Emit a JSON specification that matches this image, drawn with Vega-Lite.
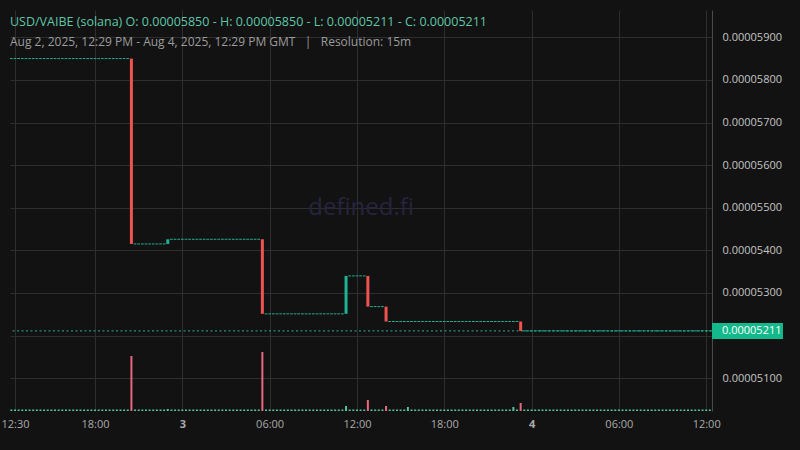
{
  "$schema": "https://vega.github.io/schema/vega-lite/v6.json",
  "width": 702,
  "height": 401,
  "autosize": {"type": "none"},
  "padding": {"left": 10, "top": 10, "right": 88, "bottom": 39},
  "background": "#121212",
  "title": {
    "text": "USD/VAIBE (solana)  O: 0.00005850 - H: 0.00005850 - L: 0.00005211 - C: 0.00005211",
    "subtitle": "Aug 2, 2025, 12:29 PM - Aug 4, 2025, 12:29 PM GMT \u00a0\u00a0|\u00a0\u00a0 Resolution: 15m",
    "anchor": "start",
    "frame": "group",
    "offset": -38,
    "font": "Open Sans",
    "fontSize": 12.5,
    "fontWeight": "normal",
    "color": "#5fc7a8",
    "subtitleFont": "Open Sans",
    "subtitleFontSize": 12,
    "subtitleColor": "#9c9c9c",
    "subtitlePadding": 9
  },
  "config": {
    "view": {"stroke": null},
    "font": "Open Sans",
    "scale": {"continuousPadding": 0}
  },
  "datasets": {
    "candles": [
      {"t": "2025-08-02T12:15:00Z", "o": 0.0000585, "c": 0.0000585, "v": 15},
      {"t": "2025-08-02T12:30:00Z", "o": 0.0000585, "c": 0.0000585, "v": 15},
      {"t": "2025-08-02T12:45:00Z", "o": 0.0000585, "c": 0.0000585, "v": 15},
      {"t": "2025-08-02T13:00:00Z", "o": 0.0000585, "c": 0.0000585, "v": 15},
      {"t": "2025-08-02T13:15:00Z", "o": 0.0000585, "c": 0.0000585, "v": 15},
      {"t": "2025-08-02T13:30:00Z", "o": 0.0000585, "c": 0.0000585, "v": 15},
      {"t": "2025-08-02T13:45:00Z", "o": 0.0000585, "c": 0.0000585, "v": 15},
      {"t": "2025-08-02T14:00:00Z", "o": 0.0000585, "c": 0.0000585, "v": 15},
      {"t": "2025-08-02T14:15:00Z", "o": 0.0000585, "c": 0.0000585, "v": 15},
      {"t": "2025-08-02T14:30:00Z", "o": 0.0000585, "c": 0.0000585, "v": 15},
      {"t": "2025-08-02T14:45:00Z", "o": 0.0000585, "c": 0.0000585, "v": 15},
      {"t": "2025-08-02T15:00:00Z", "o": 0.0000585, "c": 0.0000585, "v": 15},
      {"t": "2025-08-02T15:15:00Z", "o": 0.0000585, "c": 0.0000585, "v": 15},
      {"t": "2025-08-02T15:30:00Z", "o": 0.0000585, "c": 0.0000585, "v": 15},
      {"t": "2025-08-02T15:45:00Z", "o": 0.0000585, "c": 0.0000585, "v": 15},
      {"t": "2025-08-02T16:00:00Z", "o": 0.0000585, "c": 0.0000585, "v": 15},
      {"t": "2025-08-02T16:15:00Z", "o": 0.0000585, "c": 0.0000585, "v": 15},
      {"t": "2025-08-02T16:30:00Z", "o": 0.0000585, "c": 0.0000585, "v": 15},
      {"t": "2025-08-02T16:45:00Z", "o": 0.0000585, "c": 0.0000585, "v": 15},
      {"t": "2025-08-02T17:00:00Z", "o": 0.0000585, "c": 0.0000585, "v": 15},
      {"t": "2025-08-02T17:15:00Z", "o": 0.0000585, "c": 0.0000585, "v": 15},
      {"t": "2025-08-02T17:30:00Z", "o": 0.0000585, "c": 0.0000585, "v": 15},
      {"t": "2025-08-02T17:45:00Z", "o": 0.0000585, "c": 0.0000585, "v": 15},
      {"t": "2025-08-02T18:00:00Z", "o": 0.0000585, "c": 0.0000585, "v": 15},
      {"t": "2025-08-02T18:15:00Z", "o": 0.0000585, "c": 0.0000585, "v": 15},
      {"t": "2025-08-02T18:30:00Z", "o": 0.0000585, "c": 0.0000585, "v": 15},
      {"t": "2025-08-02T18:45:00Z", "o": 0.0000585, "c": 0.0000585, "v": 15},
      {"t": "2025-08-02T19:00:00Z", "o": 0.0000585, "c": 0.0000585, "v": 15},
      {"t": "2025-08-02T19:15:00Z", "o": 0.0000585, "c": 0.0000585, "v": 15},
      {"t": "2025-08-02T19:30:00Z", "o": 0.0000585, "c": 0.0000585, "v": 15},
      {"t": "2025-08-02T19:45:00Z", "o": 0.0000585, "c": 0.0000585, "v": 15},
      {"t": "2025-08-02T20:00:00Z", "o": 0.0000585, "c": 0.0000585, "v": 15},
      {"t": "2025-08-02T20:15:00Z", "o": 0.0000585, "c": 0.0000585, "v": 15},
      {"t": "2025-08-02T20:30:00Z", "o": 0.0000585, "c": 0.00005415, "v": 550},
      {"t": "2025-08-02T20:45:00Z", "o": 0.00005415, "c": 0.00005415, "v": 15},
      {"t": "2025-08-02T21:00:00Z", "o": 0.00005415, "c": 0.00005415, "v": 15},
      {"t": "2025-08-02T21:15:00Z", "o": 0.00005415, "c": 0.00005415, "v": 15},
      {"t": "2025-08-02T21:30:00Z", "o": 0.00005415, "c": 0.00005415, "v": 15},
      {"t": "2025-08-02T21:45:00Z", "o": 0.00005415, "c": 0.00005415, "v": 15},
      {"t": "2025-08-02T22:00:00Z", "o": 0.00005415, "c": 0.00005415, "v": 15},
      {"t": "2025-08-02T22:15:00Z", "o": 0.00005415, "c": 0.00005415, "v": 15},
      {"t": "2025-08-02T22:30:00Z", "o": 0.00005415, "c": 0.00005415, "v": 15},
      {"t": "2025-08-02T22:45:00Z", "o": 0.00005415, "c": 0.00005415, "v": 15},
      {"t": "2025-08-02T23:00:00Z", "o": 0.00005415, "c": 0.00005426, "v": 20},
      {"t": "2025-08-02T23:15:00Z", "o": 0.00005426, "c": 0.00005426, "v": 15},
      {"t": "2025-08-02T23:30:00Z", "o": 0.00005426, "c": 0.00005426, "v": 15},
      {"t": "2025-08-02T23:45:00Z", "o": 0.00005426, "c": 0.00005426, "v": 15},
      {"t": "2025-08-03T00:00:00Z", "o": 0.00005426, "c": 0.00005426, "v": 15},
      {"t": "2025-08-03T00:15:00Z", "o": 0.00005426, "c": 0.00005426, "v": 15},
      {"t": "2025-08-03T00:30:00Z", "o": 0.00005426, "c": 0.00005426, "v": 15},
      {"t": "2025-08-03T00:45:00Z", "o": 0.00005426, "c": 0.00005426, "v": 15},
      {"t": "2025-08-03T01:00:00Z", "o": 0.00005426, "c": 0.00005426, "v": 15},
      {"t": "2025-08-03T01:15:00Z", "o": 0.00005426, "c": 0.00005426, "v": 15},
      {"t": "2025-08-03T01:30:00Z", "o": 0.00005426, "c": 0.00005426, "v": 15},
      {"t": "2025-08-03T01:45:00Z", "o": 0.00005426, "c": 0.00005426, "v": 15},
      {"t": "2025-08-03T02:00:00Z", "o": 0.00005426, "c": 0.00005426, "v": 15},
      {"t": "2025-08-03T02:15:00Z", "o": 0.00005426, "c": 0.00005426, "v": 15},
      {"t": "2025-08-03T02:30:00Z", "o": 0.00005426, "c": 0.00005426, "v": 15},
      {"t": "2025-08-03T02:45:00Z", "o": 0.00005426, "c": 0.00005426, "v": 15},
      {"t": "2025-08-03T03:00:00Z", "o": 0.00005426, "c": 0.00005426, "v": 15},
      {"t": "2025-08-03T03:15:00Z", "o": 0.00005426, "c": 0.00005426, "v": 15},
      {"t": "2025-08-03T03:30:00Z", "o": 0.00005426, "c": 0.00005426, "v": 15},
      {"t": "2025-08-03T03:45:00Z", "o": 0.00005426, "c": 0.00005426, "v": 15},
      {"t": "2025-08-03T04:00:00Z", "o": 0.00005426, "c": 0.00005426, "v": 15},
      {"t": "2025-08-03T04:15:00Z", "o": 0.00005426, "c": 0.00005426, "v": 15},
      {"t": "2025-08-03T04:30:00Z", "o": 0.00005426, "c": 0.00005426, "v": 15},
      {"t": "2025-08-03T04:45:00Z", "o": 0.00005426, "c": 0.00005426, "v": 15},
      {"t": "2025-08-03T05:00:00Z", "o": 0.00005426, "c": 0.00005426, "v": 15},
      {"t": "2025-08-03T05:15:00Z", "o": 0.00005426, "c": 0.00005426, "v": 15},
      {"t": "2025-08-03T05:30:00Z", "o": 0.00005426, "c": 0.00005251, "v": 590},
      {"t": "2025-08-03T05:45:00Z", "o": 0.00005251, "c": 0.00005251, "v": 15},
      {"t": "2025-08-03T06:00:00Z", "o": 0.00005251, "c": 0.00005251, "v": 15},
      {"t": "2025-08-03T06:15:00Z", "o": 0.00005251, "c": 0.00005251, "v": 15},
      {"t": "2025-08-03T06:30:00Z", "o": 0.00005251, "c": 0.00005251, "v": 15},
      {"t": "2025-08-03T06:45:00Z", "o": 0.00005251, "c": 0.00005251, "v": 15},
      {"t": "2025-08-03T07:00:00Z", "o": 0.00005251, "c": 0.00005251, "v": 15},
      {"t": "2025-08-03T07:15:00Z", "o": 0.00005251, "c": 0.00005251, "v": 15},
      {"t": "2025-08-03T07:30:00Z", "o": 0.00005251, "c": 0.00005251, "v": 15},
      {"t": "2025-08-03T07:45:00Z", "o": 0.00005251, "c": 0.00005251, "v": 15},
      {"t": "2025-08-03T08:00:00Z", "o": 0.00005251, "c": 0.00005251, "v": 15},
      {"t": "2025-08-03T08:15:00Z", "o": 0.00005251, "c": 0.00005251, "v": 15},
      {"t": "2025-08-03T08:30:00Z", "o": 0.00005251, "c": 0.00005251, "v": 15},
      {"t": "2025-08-03T08:45:00Z", "o": 0.00005251, "c": 0.00005251, "v": 15},
      {"t": "2025-08-03T09:00:00Z", "o": 0.00005251, "c": 0.00005251, "v": 15},
      {"t": "2025-08-03T09:15:00Z", "o": 0.00005251, "c": 0.00005251, "v": 15},
      {"t": "2025-08-03T09:30:00Z", "o": 0.00005251, "c": 0.00005251, "v": 15},
      {"t": "2025-08-03T09:45:00Z", "o": 0.00005251, "c": 0.00005251, "v": 15},
      {"t": "2025-08-03T10:00:00Z", "o": 0.00005251, "c": 0.00005251, "v": 15},
      {"t": "2025-08-03T10:15:00Z", "o": 0.00005251, "c": 0.00005251, "v": 15},
      {"t": "2025-08-03T10:30:00Z", "o": 0.00005251, "c": 0.00005251, "v": 15},
      {"t": "2025-08-03T10:45:00Z", "o": 0.00005251, "c": 0.00005251, "v": 15},
      {"t": "2025-08-03T11:00:00Z", "o": 0.00005251, "c": 0.00005251, "v": 15},
      {"t": "2025-08-03T11:15:00Z", "o": 0.00005251, "c": 0.0000534, "v": 50},
      {"t": "2025-08-03T11:30:00Z", "o": 0.0000534, "c": 0.0000534, "v": 15},
      {"t": "2025-08-03T11:45:00Z", "o": 0.0000534, "c": 0.0000534, "v": 15},
      {"t": "2025-08-03T12:00:00Z", "o": 0.0000534, "c": 0.0000534, "v": 15},
      {"t": "2025-08-03T12:15:00Z", "o": 0.0000534, "c": 0.0000534, "v": 15},
      {"t": "2025-08-03T12:30:00Z", "o": 0.0000534, "c": 0.0000534, "v": 15},
      {"t": "2025-08-03T12:45:00Z", "o": 0.0000534, "c": 0.00005268, "v": 110},
      {"t": "2025-08-03T13:00:00Z", "o": 0.00005268, "c": 0.00005268, "v": 15},
      {"t": "2025-08-03T13:15:00Z", "o": 0.00005268, "c": 0.00005268, "v": 15},
      {"t": "2025-08-03T13:30:00Z", "o": 0.00005268, "c": 0.00005268, "v": 15},
      {"t": "2025-08-03T13:45:00Z", "o": 0.00005268, "c": 0.00005268, "v": 15},
      {"t": "2025-08-03T14:00:00Z", "o": 0.00005268, "c": 0.00005233, "v": 50},
      {"t": "2025-08-03T14:15:00Z", "o": 0.00005233, "c": 0.00005233, "v": 15},
      {"t": "2025-08-03T14:30:00Z", "o": 0.00005233, "c": 0.00005233, "v": 15},
      {"t": "2025-08-03T14:45:00Z", "o": 0.00005233, "c": 0.00005233, "v": 15},
      {"t": "2025-08-03T15:00:00Z", "o": 0.00005233, "c": 0.00005233, "v": 15},
      {"t": "2025-08-03T15:15:00Z", "o": 0.00005233, "c": 0.00005233, "v": 15},
      {"t": "2025-08-03T15:30:00Z", "o": 0.00005233, "c": 0.00005233, "v": 40},
      {"t": "2025-08-03T15:45:00Z", "o": 0.00005233, "c": 0.00005233, "v": 15},
      {"t": "2025-08-03T16:00:00Z", "o": 0.00005233, "c": 0.00005233, "v": 15},
      {"t": "2025-08-03T16:15:00Z", "o": 0.00005233, "c": 0.00005233, "v": 15},
      {"t": "2025-08-03T16:30:00Z", "o": 0.00005233, "c": 0.00005233, "v": 15},
      {"t": "2025-08-03T16:45:00Z", "o": 0.00005233, "c": 0.00005233, "v": 15},
      {"t": "2025-08-03T17:00:00Z", "o": 0.00005233, "c": 0.00005233, "v": 15},
      {"t": "2025-08-03T17:15:00Z", "o": 0.00005233, "c": 0.00005233, "v": 15},
      {"t": "2025-08-03T17:30:00Z", "o": 0.00005233, "c": 0.00005233, "v": 15},
      {"t": "2025-08-03T17:45:00Z", "o": 0.00005233, "c": 0.00005233, "v": 15},
      {"t": "2025-08-03T18:00:00Z", "o": 0.00005233, "c": 0.00005233, "v": 15},
      {"t": "2025-08-03T18:15:00Z", "o": 0.00005233, "c": 0.00005233, "v": 15},
      {"t": "2025-08-03T18:30:00Z", "o": 0.00005233, "c": 0.00005233, "v": 15},
      {"t": "2025-08-03T18:45:00Z", "o": 0.00005233, "c": 0.00005233, "v": 15},
      {"t": "2025-08-03T19:00:00Z", "o": 0.00005233, "c": 0.00005233, "v": 15},
      {"t": "2025-08-03T19:15:00Z", "o": 0.00005233, "c": 0.00005233, "v": 15},
      {"t": "2025-08-03T19:30:00Z", "o": 0.00005233, "c": 0.00005233, "v": 15},
      {"t": "2025-08-03T19:45:00Z", "o": 0.00005233, "c": 0.00005233, "v": 15},
      {"t": "2025-08-03T20:00:00Z", "o": 0.00005233, "c": 0.00005233, "v": 15},
      {"t": "2025-08-03T20:15:00Z", "o": 0.00005233, "c": 0.00005233, "v": 15},
      {"t": "2025-08-03T20:30:00Z", "o": 0.00005233, "c": 0.00005233, "v": 15},
      {"t": "2025-08-03T20:45:00Z", "o": 0.00005233, "c": 0.00005233, "v": 15},
      {"t": "2025-08-03T21:00:00Z", "o": 0.00005233, "c": 0.00005233, "v": 15},
      {"t": "2025-08-03T21:15:00Z", "o": 0.00005233, "c": 0.00005233, "v": 15},
      {"t": "2025-08-03T21:30:00Z", "o": 0.00005233, "c": 0.00005233, "v": 15},
      {"t": "2025-08-03T21:45:00Z", "o": 0.00005233, "c": 0.00005233, "v": 15},
      {"t": "2025-08-03T22:00:00Z", "o": 0.00005233, "c": 0.00005233, "v": 15},
      {"t": "2025-08-03T22:15:00Z", "o": 0.00005233, "c": 0.00005233, "v": 15},
      {"t": "2025-08-03T22:30:00Z", "o": 0.00005233, "c": 0.00005233, "v": 15},
      {"t": "2025-08-03T22:45:00Z", "o": 0.00005233, "c": 0.00005233, "v": 40},
      {"t": "2025-08-03T23:00:00Z", "o": 0.00005233, "c": 0.00005233, "v": 15},
      {"t": "2025-08-03T23:15:00Z", "o": 0.00005233, "c": 0.00005211, "v": 80},
      {"t": "2025-08-03T23:30:00Z", "o": 0.00005211, "c": 0.00005211, "v": 15},
      {"t": "2025-08-03T23:45:00Z", "o": 0.00005211, "c": 0.00005211, "v": 15},
      {"t": "2025-08-04T00:00:00Z", "o": 0.00005211, "c": 0.00005211, "v": 15},
      {"t": "2025-08-04T00:15:00Z", "o": 0.00005211, "c": 0.00005211, "v": 15},
      {"t": "2025-08-04T00:30:00Z", "o": 0.00005211, "c": 0.00005211, "v": 15},
      {"t": "2025-08-04T00:45:00Z", "o": 0.00005211, "c": 0.00005211, "v": 15},
      {"t": "2025-08-04T01:00:00Z", "o": 0.00005211, "c": 0.00005211, "v": 15},
      {"t": "2025-08-04T01:15:00Z", "o": 0.00005211, "c": 0.00005211, "v": 15},
      {"t": "2025-08-04T01:30:00Z", "o": 0.00005211, "c": 0.00005211, "v": 15},
      {"t": "2025-08-04T01:45:00Z", "o": 0.00005211, "c": 0.00005211, "v": 15},
      {"t": "2025-08-04T02:00:00Z", "o": 0.00005211, "c": 0.00005211, "v": 15},
      {"t": "2025-08-04T02:15:00Z", "o": 0.00005211, "c": 0.00005211, "v": 15},
      {"t": "2025-08-04T02:30:00Z", "o": 0.00005211, "c": 0.00005211, "v": 15},
      {"t": "2025-08-04T02:45:00Z", "o": 0.00005211, "c": 0.00005211, "v": 15},
      {"t": "2025-08-04T03:00:00Z", "o": 0.00005211, "c": 0.00005211, "v": 15},
      {"t": "2025-08-04T03:15:00Z", "o": 0.00005211, "c": 0.00005211, "v": 15},
      {"t": "2025-08-04T03:30:00Z", "o": 0.00005211, "c": 0.00005211, "v": 15},
      {"t": "2025-08-04T03:45:00Z", "o": 0.00005211, "c": 0.00005211, "v": 15},
      {"t": "2025-08-04T04:00:00Z", "o": 0.00005211, "c": 0.00005211, "v": 15},
      {"t": "2025-08-04T04:15:00Z", "o": 0.00005211, "c": 0.00005211, "v": 15},
      {"t": "2025-08-04T04:30:00Z", "o": 0.00005211, "c": 0.00005211, "v": 15},
      {"t": "2025-08-04T04:45:00Z", "o": 0.00005211, "c": 0.00005211, "v": 15},
      {"t": "2025-08-04T05:00:00Z", "o": 0.00005211, "c": 0.00005211, "v": 15},
      {"t": "2025-08-04T05:15:00Z", "o": 0.00005211, "c": 0.00005211, "v": 15},
      {"t": "2025-08-04T05:30:00Z", "o": 0.00005211, "c": 0.00005211, "v": 15},
      {"t": "2025-08-04T05:45:00Z", "o": 0.00005211, "c": 0.00005211, "v": 15},
      {"t": "2025-08-04T06:00:00Z", "o": 0.00005211, "c": 0.00005211, "v": 15},
      {"t": "2025-08-04T06:15:00Z", "o": 0.00005211, "c": 0.00005211, "v": 15},
      {"t": "2025-08-04T06:30:00Z", "o": 0.00005211, "c": 0.00005211, "v": 15},
      {"t": "2025-08-04T06:45:00Z", "o": 0.00005211, "c": 0.00005211, "v": 15},
      {"t": "2025-08-04T07:00:00Z", "o": 0.00005211, "c": 0.00005211, "v": 15},
      {"t": "2025-08-04T07:15:00Z", "o": 0.00005211, "c": 0.00005211, "v": 15},
      {"t": "2025-08-04T07:30:00Z", "o": 0.00005211, "c": 0.00005211, "v": 15},
      {"t": "2025-08-04T07:45:00Z", "o": 0.00005211, "c": 0.00005211, "v": 15},
      {"t": "2025-08-04T08:00:00Z", "o": 0.00005211, "c": 0.00005211, "v": 15},
      {"t": "2025-08-04T08:15:00Z", "o": 0.00005211, "c": 0.00005211, "v": 15},
      {"t": "2025-08-04T08:30:00Z", "o": 0.00005211, "c": 0.00005211, "v": 15},
      {"t": "2025-08-04T08:45:00Z", "o": 0.00005211, "c": 0.00005211, "v": 15},
      {"t": "2025-08-04T09:00:00Z", "o": 0.00005211, "c": 0.00005211, "v": 15},
      {"t": "2025-08-04T09:15:00Z", "o": 0.00005211, "c": 0.00005211, "v": 15},
      {"t": "2025-08-04T09:30:00Z", "o": 0.00005211, "c": 0.00005211, "v": 15},
      {"t": "2025-08-04T09:45:00Z", "o": 0.00005211, "c": 0.00005211, "v": 15},
      {"t": "2025-08-04T10:00:00Z", "o": 0.00005211, "c": 0.00005211, "v": 15},
      {"t": "2025-08-04T10:15:00Z", "o": 0.00005211, "c": 0.00005211, "v": 15},
      {"t": "2025-08-04T10:30:00Z", "o": 0.00005211, "c": 0.00005211, "v": 15},
      {"t": "2025-08-04T10:45:00Z", "o": 0.00005211, "c": 0.00005211, "v": 15},
      {"t": "2025-08-04T11:00:00Z", "o": 0.00005211, "c": 0.00005211, "v": 15},
      {"t": "2025-08-04T11:15:00Z", "o": 0.00005211, "c": 0.00005211, "v": 15},
      {"t": "2025-08-04T11:30:00Z", "o": 0.00005211, "c": 0.00005211, "v": 15},
      {"t": "2025-08-04T11:45:00Z", "o": 0.00005211, "c": 0.00005211, "v": 15},
      {"t": "2025-08-04T12:00:00Z", "o": 0.00005211, "c": 0.00005211, "v": 15},
      {"t": "2025-08-04T12:15:00Z", "o": 0.00005211, "c": 0.00005211, "v": 15}
    ]
  },
  "layer": [
    {
      "data": {"name": "candles"},
      "mark": {"type": "bar", "width": 2},
      "encoding": {
        "x": {
          "field": "t",
          "type": "temporal",
          "scale": {"type": "utc", "nice": false, "padding": 0, "domain": [
            {"year": 2025, "month": 8, "date": 2, "hours": 12, "minutes": 9, "seconds": 22, "utc": true},
            {"year": 2025, "month": 8, "date": 4, "hours": 12, "minutes": 24, "utc": true}
          ]},
          "axis": {
            "values": [
              {"year": 2025, "month": 8, "date": 2, "hours": 12, "minutes": 30, "utc": true},
              {"year": 2025, "month": 8, "date": 2, "hours": 18, "utc": true},
              {"year": 2025, "month": 8, "date": 3, "hours": 0, "utc": true},
              {"year": 2025, "month": 8, "date": 3, "hours": 6, "utc": true},
              {"year": 2025, "month": 8, "date": 3, "hours": 12, "utc": true},
              {"year": 2025, "month": 8, "date": 3, "hours": 18, "utc": true},
              {"year": 2025, "month": 8, "date": 4, "hours": 0, "utc": true},
              {"year": 2025, "month": 8, "date": 4, "hours": 6, "utc": true},
              {"year": 2025, "month": 8, "date": 4, "hours": 12, "utc": true}
            ],
            "grid": true,
            "gridColor": "#2e2e2e",
            "domain": false,
            "ticks": false,
            "title": null,
            "labelFont": "Open Sans",
            "labelFontSize": 11,
            "labelExpr": "utchours(datum.value) == 0 ? utcFormat(datum.value, '%-d') : utcFormat(datum.value, '%H:%M')",
            "labelColor": "#aaaaaa",
            "labelFontWeight": {"condition": {"test": "utchours(datum.value) == 0", "value": "bold"}, "value": "normal"},
            "labelPadding": 7,
            "labelFlush": false,
            "labelOverlap": false
          }
        },
        "y": {"field": "v", "type": "quantitative", "scale": {"domain": [0, 4010], "nice": false}, "axis": null},
        "color": {"condition": {"test": "datum.c < datum.o", "value": "#e8697d"}, "value": "#55c4a2"}
      }
    },
    {
      "data": {"values": [{"name": "defined.fi"}]},
      "mark": {"type": "text", "fontSize": 24, "color": "#26243f", "baseline": "middle", "align": "center"},
      "encoding": {
        "x": {"datum": {"year": 2025, "month": 8, "date": 3, "hours": 12, "minutes": 17, "utc": true}, "type": "temporal"},
        "y": {"datum": 0.000055, "type": "quantitative", "scale": {"domain": [0.00005023, 0.00005964], "nice": false, "zero": false}, "axis": null},
        "text": {"field": "name"}
      }
    },
    {
      "data": {"values": [{"price": 0.00005211}]},
      "mark": {"type": "rule", "color": "#27b39a", "strokeDash": [2, 2.5], "strokeWidth": 1},
      "encoding": {
        "y": {"field": "price", "type": "quantitative", "scale": {"domain": [0.00005023, 0.00005964], "nice": false, "zero": false}, "axis": null}
      }
    },
    {
      "data": {"name": "candles"},
      "transform": [{"filter": "datum.o != datum.c"}],
      "mark": {"type": "bar", "width": 3},
      "encoding": {
        "x": {"field": "t", "type": "temporal"},
        "y": {
          "field": "o",
          "type": "quantitative",
          "scale": {"domain": [0.00005023, 0.00005964], "nice": false, "zero": false},
          "axis": {
            "orient": "right",
            "values": [0.000051, 0.000052, 0.000053, 0.000054, 0.000055, 0.000056, 0.000057, 0.000058, 0.000059],
            "grid": true,
            "gridColor": "#2e2e2e",
            "domain": true,
            "domainColor": "#4a4a4a",
            "ticks": false,
            "title": null,
            "labelFont": "Open Sans",
            "labelFontSize": 11,
            "labelPadding": 10,
            "labelColor": "#c4c4c4",
            "labelOverlap": false,
            "labelExpr": "abs(datum.value - 0.000052) < 1e-9 ? '' : format(datum.value, '.8f')"
          }
        },
        "y2": {"field": "c"},
        "color": {"condition": {"test": "datum.c < datum.o", "value": "#ef5350"}, "value": "#1fb394"}
      }
    },
    {
      "data": {"name": "candles"},
      "transform": [{"filter": "datum.o == datum.c"}],
      "mark": {"type": "tick", "orient": "horizontal", "size": 2.7, "thickness": 1, "color": "#21ae92", "opacity": 1},
      "encoding": {
        "x": {"field": "t", "type": "temporal"},
        "y": {"field": "c", "type": "quantitative", "scale": {"domain": [0.00005023, 0.00005964], "nice": false, "zero": false}, "axis": null}
      }
    },
    {
      "data": {"values": [{"price": 0.00005211}]},
      "mark": {"type": "point", "shape": "M0,-0.222H1.972V0.222H0Z", "size": 5184, "filled": true, "fill": "#13b98a", "opacity": 1, "strokeWidth": 0},
      "encoding": {
        "x": {"datum": {"year": 2025, "month": 8, "date": 4, "hours": 12, "minutes": 24, "utc": true}, "type": "temporal"},
        "y": {"field": "price", "type": "quantitative", "scale": {"domain": [0.00005023, 0.00005964], "nice": false, "zero": false}, "axis": null}
      }
    },
    {
      "data": {"values": [{"price": 0.00005211}]},
      "mark": {"type": "text", "align": "left", "baseline": "middle", "dx": 10, "fontSize": 11, "color": "#ffffff"},
      "encoding": {
        "x": {"datum": {"year": 2025, "month": 8, "date": 4, "hours": 12, "minutes": 24, "utc": true}, "type": "temporal"},
        "y": {"field": "price", "type": "quantitative", "scale": {"domain": [0.00005023, 0.00005964], "nice": false, "zero": false}, "axis": null},
        "text": {"field": "price", "type": "quantitative", "format": ".8f"}
      }
    }
  ],
  "resolve": {"scale": {"y": "independent"}}
}
